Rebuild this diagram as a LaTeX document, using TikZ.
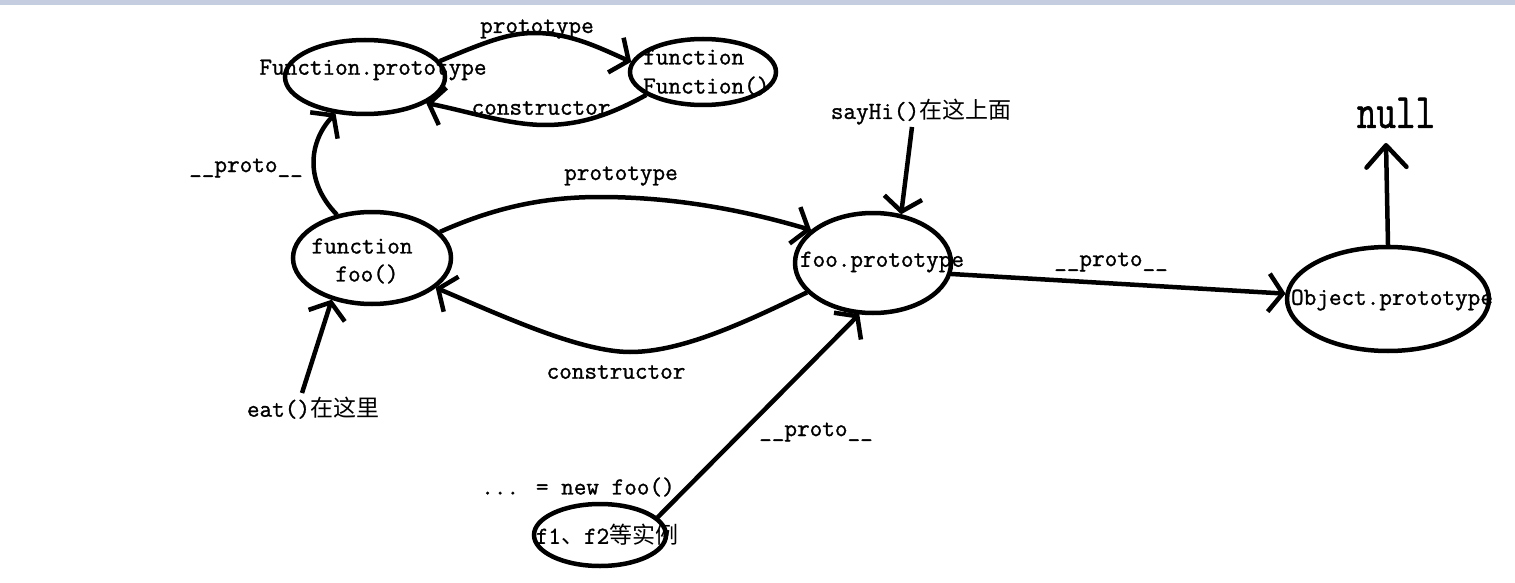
\documentclass[tikz,border=0pt]{standalone}
\usepackage{fontspec}
\usepackage{graphicx}
\newfontfamily\mono{Latin Modern Mono}[FakeBold=1.2]
\newfontfamily\cjk{Noto Sans CJK SC}
\usetikzlibrary{arrows.meta,shapes.geometric}
\definecolor{topbar}{RGB}{196,206,224}
\newcommand{\cj}[1]{{\cjk\fontsize{23}{28}\selectfont #1}}
\begin{document}
\begin{tikzpicture}[x=1pt,y=-1pt,
  every node/.style={font=\mono\fontsize{24.5}{28}\selectfont, inner sep=0pt},
  ell/.style={draw, ellipse, line width=4.5pt, inner sep=0pt, outer sep=2pt},
  link/.style={line width=4.5pt, -{Straight Barb[length=14pt,width=38pt]}},
  bigtip/.style={line width=4.5pt, -{Straight Barb[length=22pt,width=40pt,round]}}]
\useasboundingbox (0,0) rectangle (1515,583);
\fill[topbar] (0,0) rectangle (1515,5);
% ellipses
\node[ell, minimum width=160pt, minimum height=74pt] (FP) at (365,77) {};
\node[ell, minimum width=146pt, minimum height=66pt] (FF) at (703,72) {};
\node[ell, minimum width=158pt, minimum height=92pt] (Foo) at (372,258) {};
\node[ell, minimum width=156pt, minimum height=100pt] (FooP) at (873,263) {};
\node[ell, minimum width=202pt, minimum height=104pt] (ObjP) at (1388,299) {};
\node[ell, minimum width=132pt, minimum height=62pt] (F1) at (600,535) {};
% texts in ellipses
\node (tFP) at (373,70) {Function.prototype};
\node[anchor=west] (tFF1) at (643,57) {function};
\node[anchor=west] (tFF2) at (643,86) {Function()};
\node (tFoo1) at (362,246) {function};
\node (tFoo2) at (367,274) {foo()};
\node (tFooP) at (882,262) {foo.prototype};
\node (tObjP) at (1392,300) {Object.prototype};
\node (tF1) at (607,535) {f1\cj{、}f2\cj{等实例}};
% labels
\node (lp1) at (537,29) {prototype};
\node (lc1) at (541,108) {constructor};
\node (lpr1) at (246,168) {\_\_proto\_\_};
\node (lp2) at (621,176) {prototype};
\node (lc2) at (616,372) {constructor};
\node (leat) at (313,408) {eat()\cj{在这里}};
\node (lsay) at (921,112) {sayHi()\cj{在这上面}};
\node (lnull) at (1396,113) {\fontsize{38}{40}\selectfont\scalebox{1}[1.3]{null}};
\node (lpr2) at (1111,262) {\_\_proto\_\_};
\node (lpr3) at (816,432) {\_\_proto\_\_};
\node (lnew) at (578,487) {... = new foo()};
% free ends
\coordinate (eatsrc) at (302,393);
\coordinate (saysrc) at (912,127);
\coordinate (nulltip) at (1386,143);
% connectors
\draw[link] (FP.12) .. controls (490,40) and (510,33) .. (535,33) .. controls (570,33) and (600,48) .. (FF.172);
\draw[link] (FF.-158) .. controls (610,115) and (580,125) .. (545,125) .. controls (510,125) and (470,112) .. (FP.-23);
\draw[link] (Foo.129) .. controls (303,180) and (310,140) .. (FP.-129);
\draw[link] (Foo.21) .. controls (500,205) and (550,197) .. (600,197) .. controls (680,197) and (750,212) .. (FooP.152);
\draw[link] (FooP.-156) .. controls (740,325) and (680,352) .. (630,352) .. controls (580,352) and (500,315) .. (Foo.-25);
\draw[link] (eatsrc) -- (Foo.-134);
\draw[link] (saysrc) -- (FooP.60);
\draw[link] (FooP.-8) -- (ObjP.177);
\draw[bigtip] (ObjP.north) -- (nulltip);
\draw[link] (F1.17) -- (FooP.-105);
\end{tikzpicture}
\end{document}
